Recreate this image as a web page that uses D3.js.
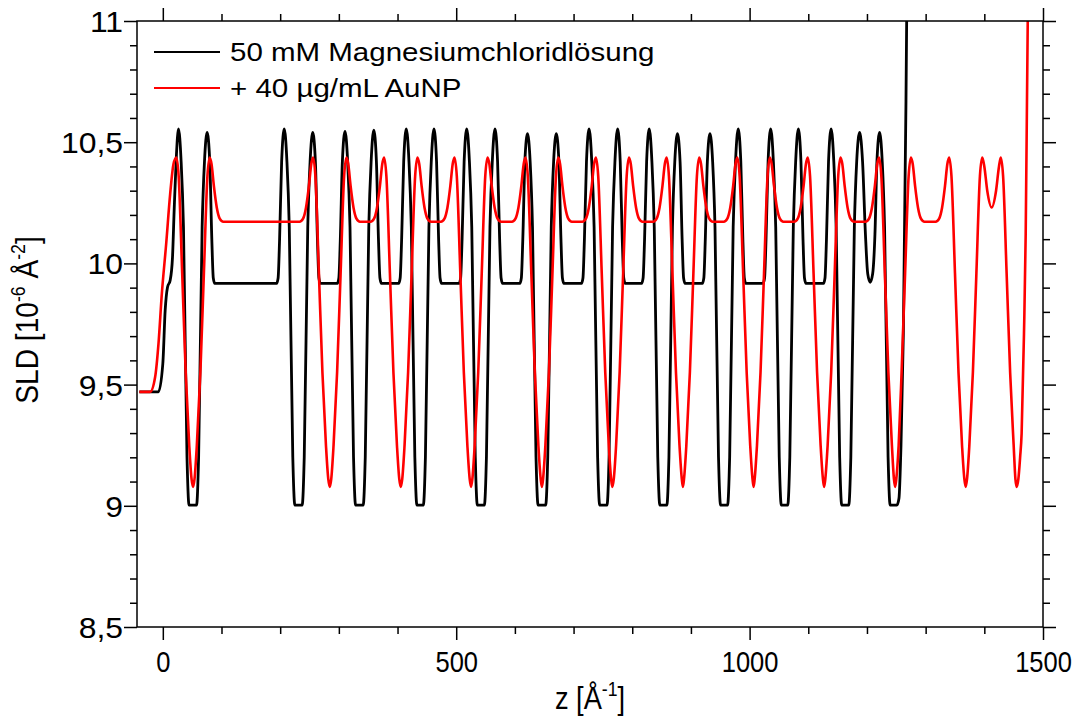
<!DOCTYPE html>
<html><head><meta charset="utf-8">
<script src="https://cdn.jsdelivr.net/npm/d3@7"></script>
<style>
body{margin:0;background:#fff}
svg{display:block}
text{font-family:"Liberation Sans",Arial,sans-serif;fill:#000}
</style>
</head><body>
<svg id="chart" width="1076" height="718"></svg>
<script>
// ---------- data ----------
const xDomain = [-44, 1500];
const yDomain = [8.5, 11];
const xTicksMajor = [0, 500, 1000, 1500];
const xTickLabels = ["0", "500", "1000", "1500"];
const xTicksMinor = [100, 200, 300, 400, 600, 700, 800, 900, 1100, 1200, 1300, 1400];
const yTicksMajor = [8.5, 9, 9.5, 10, 10.5, 11];
const yTickLabels = ["8,5", "9", "9,5", "10", "10,5", "11"];
const yTicksMinor = [8.6, 8.7, 8.8, 8.9, 9.1, 9.2, 9.3, 9.4, 9.6, 9.7, 9.8, 9.9, 10.1, 10.2, 10.3, 10.4, 10.6, 10.7, 10.8, 10.9];
const seriesNames = ["50 mM Magnesiumchloridlösung", "+ 40 µg/mL AuNP"];
const seriesColors = ["#000000", "#ff0000"];

// z [Å], SLD [1e-6 Å^-2]  — 50 mM MgCl2
const sldMgCl2 = [
[-40,9.47],[-7.5,9.47],[0,9.586],[4,9.806],[8,9.902],[12.5,9.93],[16.5,10.025],[19.3,10.217],[22.7,10.423],[26.7,10.555],
[31.2,10.42],[35.2,10.15],[41.2,9.2],[44.7,9.003],[57.5,9.003],[61,9.2],[67,10.15],[71,10.42],[75.5,10.54],[80,10.42],[83.5,10.1],[86,9.94],[88.5,9.918],
[194,9.918],[196.5,9.94],[199,10.1],[202.5,10.42],[207,10.555],[211.5,10.42],[215.5,10.15],[221.5,9.2],[225,9.003],[237.5,9.003],[241,9.2],[247,10.15],[251,10.42],[255.5,10.54],[260,10.42],[263.5,10.1],[266,9.94],[268.5,9.918],
[297.5,9.918],[300,9.94],[302.5,10.1],[306,10.42],[310.5,10.545],[315,10.42],[319,10.15],[325,9.2],[328.5,9.003],[341.5,9.003],[345,9.2],[351,10.15],[355,10.42],[359.5,10.55],[364,10.42],[367.5,10.1],[370,9.94],[372.5,9.918],
[402,9.918],[404.5,9.94],[407,10.1],[410.5,10.42],[415,10.555],[419.5,10.42],[423.5,10.15],[429.5,9.2],[433,9.003],[444,9.003],[447.5,9.2],[453.5,10.15],[457.5,10.42],[462,10.555],[466.5,10.42],[470,10.1],[472.5,9.94],[475,9.918],
[505,9.918],[507.5,9.94],[510,10.1],[513.5,10.42],[518,10.555],[522.5,10.42],[526.5,10.15],[532.5,9.2],[536,9.003],[548,9.003],[551.5,9.2],[557.5,10.15],[561.5,10.42],[566,10.555],[570.5,10.42],[574,10.1],[576.5,9.94],[579,9.918],
[608.5,9.918],[611,9.94],[613.5,10.1],[617,10.42],[621.5,10.535],[626,10.42],[630,10.15],[636,9.2],[639.5,9.003],[652.5,9.003],[656,9.2],[662,10.15],[666,10.42],[670.5,10.535],[675,10.42],[678.5,10.1],[681,9.94],[683.5,9.918],
[713.5,9.918],[716,9.94],[718.5,10.1],[722,10.42],[726.5,10.555],[731,10.42],[735,10.15],[741,9.2],[744.5,9.003],[757,9.003],[760.5,9.2],[766.5,10.15],[770.5,10.42],[775,10.555],[779.5,10.42],[783,10.1],[785.5,9.94],[788,9.918],
[816,9.918],[818.5,9.94],[821,10.1],[824.5,10.42],[829,10.555],[833.5,10.42],[837.5,10.15],[843.5,9.2],[847,9.003],[859,9.003],[862.5,9.2],[868.5,10.15],[872.5,10.42],[877,10.535],[881.5,10.42],[885,10.1],[887.5,9.94],[890,9.918],
[919.5,9.918],[922,9.94],[924.5,10.1],[928,10.42],[932.5,10.535],[937,10.42],[941,10.15],[947,9.2],[950.5,9.003],[962.5,9.003],[966,9.2],[972,10.15],[976,10.42],[980.5,10.555],[985,10.42],[988.5,10.1],[991,9.94],[993.5,9.918],
[1023,9.918],[1025.5,9.94],[1028,10.1],[1031.5,10.42],[1036,10.555],[1040.5,10.42],[1044.5,10.15],[1050.5,9.2],[1054,9.003],[1065,9.003],[1068.5,9.2],[1074.5,10.15],[1078.5,10.42],[1083,10.555],[1087.5,10.42],[1091,10.1],[1093.5,9.94],[1096,9.918],
[1126,9.918],[1128.5,9.94],[1131,10.1],[1134.5,10.42],[1139,10.555],[1143.5,10.42],[1147.5,10.15],[1153.5,9.2],[1157,9.003],[1169,9.003],[1172.5,9.2],[1178.5,10.15],[1182.5,10.42],[1187.5,10.54],
[1192.5,10.42],[1197.4,10.12],[1201.3,9.957],[1205.5,9.922],[1209.7,9.957],[1213.6,10.12],[1217,10.42],[1221.5,10.54],
[1226,10.42],[1230,10.15],[1236,9.2],[1239.5,9.003],[1251,9.003],[1254.5,9.03],[1258,9.25],[1262,9.71],[1266.5,10.67],[1268,11.1],[1270,11.8]
];

// z [Å], SLD [1e-6 Å^-2]  — + 40 µg/mL AuNP
const sldAuNP = [
[-40,9.47],[-21.6,9.47],[-13.1,9.531],[-7.4,9.668],[-1.7,9.874],[5.7,10.08],[12.5,10.286],[18.2,10.41],[23,10.437],
[27,10.36],[33,9.96],[39,9.55],[45,9.25],[49,9.11],[51.6,9.078],[54,9.11],[58,9.25],[64,9.55],[70,9.96],[76,10.36],[80,10.437],[83,10.41],[87,10.32],[92,10.23],[97,10.185],[103,10.172],
[233,10.172],[239,10.185],[244,10.23],[249,10.32],[253,10.41],[256,10.437],[260,10.36],[266,9.96],[272,9.55],[278,9.25],[282,9.11],[284.6,9.078],[287,9.11],[291,9.25],[297,9.55],[303,9.96],[309,10.36],[313,10.437],[316,10.41],[320,10.32],[325,10.23],[330,10.185],[336,10.172],
[354,10.172],[360,10.185],[365,10.23],[370,10.32],[374,10.41],[377,10.437],[381,10.36],[387,9.96],[393,9.55],[399,9.25],[403,9.11],[405.5,9.078],[408,9.11],[412,9.25],[418,9.55],[424,9.96],[430,10.36],[434,10.437],[437,10.41],[441,10.32],[446,10.23],[451,10.185],[457,10.172],
[474,10.172],[480,10.185],[485,10.23],[490,10.32],[494,10.41],[497,10.437],[501,10.36],[507,9.96],[513,9.55],[519,9.25],[523,9.11],[525.3,9.078],[527.5,9.11],[531.5,9.25],[537.5,9.55],[543.5,9.96],[549.5,10.36],[553.5,10.437],[556.5,10.41],[560.5,10.32],[565.5,10.23],[570.5,10.185],[576.5,10.172],
[595,10.172],[601,10.185],[606,10.23],[611,10.32],[615,10.41],[618,10.437],[622,10.36],[628,9.96],[634,9.55],[640,9.25],[644,9.11],[646,9.078],[648,9.11],[652,9.25],[658,9.55],[664,9.96],[670,10.36],[674,10.437],[677,10.41],[681,10.32],[686,10.23],[691,10.185],[697,10.172],
[715,10.172],[721,10.185],[726,10.23],[731,10.32],[735,10.41],[738,10.437],[742,10.36],[748,9.96],[754,9.55],[760,9.25],[764,9.11],[766,9.078],[768.5,9.11],[772.5,9.25],[778.5,9.55],[784.5,9.96],[790.5,10.36],[794.5,10.437],[797.5,10.41],[801.5,10.32],[806.5,10.23],[811.5,10.185],[817.5,10.172],
[835.5,10.172],[841.5,10.185],[846.5,10.23],[851.5,10.32],[855.5,10.41],[858.5,10.437],[862.5,10.36],[868.5,9.96],[874.5,9.55],[880.5,9.25],[884.5,9.11],[886.3,9.078],[888.2,9.11],[892.2,9.25],[898.2,9.55],[904.2,9.96],[910.2,10.36],[914.2,10.437],[917.2,10.41],[921.2,10.32],[926.2,10.23],[931.2,10.185],[937.2,10.172],
[956,10.172],[962,10.185],[967,10.23],[972,10.32],[976,10.41],[979,10.437],[983,10.36],[989,9.96],[995,9.55],[1001,9.25],[1005,9.11],[1006.8,9.078],[1008.6,9.11],[1012.6,9.25],[1018.6,9.55],[1024.6,9.96],[1030.6,10.36],[1034.6,10.437],[1037.6,10.41],[1041.6,10.32],[1046.6,10.23],[1051.6,10.185],[1057.6,10.172],
[1076,10.172],[1082,10.185],[1087,10.23],[1092,10.32],[1096,10.41],[1099,10.437],[1103,10.36],[1109,9.96],[1115,9.55],[1121,9.25],[1125,9.11],[1127,9.078],[1129,9.11],[1133,9.25],[1139,9.55],[1145,9.96],[1151,10.36],[1155,10.437],[1158,10.41],[1162,10.32],[1167,10.23],[1172,10.185],[1178,10.172],
[1197.5,10.172],[1203.5,10.185],[1208.5,10.23],[1213.5,10.32],[1217.5,10.41],[1220.5,10.437],[1224.5,10.36],[1230.5,9.96],[1236.5,9.55],[1242.5,9.25],[1246,9.11],[1248,9.078],[1250,9.11],[1254,9.25],[1259,9.55],[1265,9.96],[1271,10.36],[1275,10.437],[1278,10.41],[1282,10.32],[1287,10.23],[1292,10.185],[1298,10.172],
[1317,10.172],[1323,10.185],[1328,10.23],[1333,10.32],[1337,10.41],[1340,10.437],[1344,10.36],[1350,9.96],[1356,9.55],[1362,9.25],[1366,9.11],[1368.3,9.078],[1370.5,9.11],[1374.5,9.25],[1380.5,9.55],[1386.5,9.96],[1392.5,10.36],[1396.5,10.437],
[1400,10.4],[1405,10.3],[1412.5,10.231],[1420,10.3],[1425,10.4],[1428,10.437],
[1432,10.36],[1438,9.96],[1444,9.55],[1450,9.25],[1453,9.11],[1455.2,9.078],[1458,9.11],[1461,9.2],[1463.6,9.3],[1467.6,9.71],[1470.5,10.12],[1472.7,10.67],[1474,11.0],[1476,11.6]
];

// ---------- layout ----------
const L = 137, R = 1043, T = 21, B = 627;
const svg = d3.select("#chart");
const x = d3.scaleLinear().domain(xDomain).range([L, R]);
const y = d3.scaleLinear().domain(yDomain).range([B, T]);

svg.append("defs").append("clipPath").attr("id", "plotclip")
  .append("rect").attr("x", L).attr("y", T).attr("width", R - L).attr("height", B - T);

const line = d3.line().x(d => x(d[0])).y(d => y(d[1])).curve(d3.curveMonotoneX);
const plot = svg.append("g").attr("clip-path", "url(#plotclip)");
const strokeW = [2.8, 2.6];
[sldMgCl2, sldAuNP].forEach((s, i) => {
  plot.append("path").datum(s).attr("d", line)
    .attr("fill", "none").attr("stroke", seriesColors[i])
    .attr("stroke-width", strokeW[i]).attr("stroke-linejoin", "round");
});

// ---------- axes ----------
function styleAxis(g) {
  g.selectAll("path,line").attr("stroke", "#000").attr("stroke-width", 1.5);
  g.select(".domain").remove();
}
const MAJ = 13, MIN = 7;
// bottom
svg.append("g").attr("transform", `translate(0,${B})`)
  .call(d3.axisBottom(x).tickValues(xTicksMinor).tickSize(MIN).tickFormat("")).call(styleAxis);
const xb = svg.append("g").attr("transform", `translate(0,${B})`)
  .call(d3.axisBottom(x).tickValues(xTicksMajor).tickSize(MAJ).tickPadding(0).tickFormat((d, i) => xTickLabels[i]))
  .call(styleAxis);
xb.selectAll("text").attr("font-size", 29).attr("y", 0).attr("dy", 0)
  .attr("transform", "translate(0,45) scale(0.88,1)")
  .attr("font-family", "Liberation Sans, Arial, sans-serif");
// top
svg.append("g").attr("transform", `translate(0,${T})`)
  .call(d3.axisTop(x).tickValues(xTicksMinor).tickSize(MIN).tickFormat("")).call(styleAxis);
svg.append("g").attr("transform", `translate(0,${T})`)
  .call(d3.axisTop(x).tickValues(xTicksMajor).tickSize(MAJ).tickFormat("")).call(styleAxis);
// left
svg.append("g").attr("transform", `translate(${L},0)`)
  .call(d3.axisLeft(y).tickValues(yTicksMinor).tickSize(MIN).tickFormat("")).call(styleAxis);
const yl = svg.append("g").attr("transform", `translate(${L},0)`)
  .call(d3.axisLeft(y).tickValues(yTicksMajor).tickSize(MAJ).tickPadding(0).tickFormat((d, i) => yTickLabels[i]))
  .call(styleAxis);
yl.selectAll("text").attr("font-size", 29).attr("x", 0).attr("dy", "0.36em")
  .attr("transform", "translate(-14,0) scale(1.1,1)")
  .attr("font-family", "Liberation Sans, Arial, sans-serif");
// right
svg.append("g").attr("transform", `translate(${R},0)`)
  .call(d3.axisRight(y).tickValues(yTicksMinor).tickSize(MIN).tickFormat("")).call(styleAxis);
svg.append("g").attr("transform", `translate(${R},0)`)
  .call(d3.axisRight(y).tickValues(yTicksMajor).tickSize(MAJ).tickFormat("")).call(styleAxis);

// frame
svg.append("rect").attr("x", L).attr("y", T).attr("width", R - L).attr("height", B - T)
  .attr("fill", "none").attr("stroke", "#000").attr("stroke-width", 1.5);

// axis titles
const xt = svg.append("text").attr("transform", `translate(${(L + R) / 2},709) scale(0.88,1)`)
  .attr("text-anchor", "middle").attr("font-size", 31);
xt.append("tspan").text("z [Å");
xt.append("tspan").attr("font-size", 20).attr("dy", -13).text("-1");
xt.append("tspan").attr("dy", 13).text("]");

const yt = svg.append("text").attr("transform", `translate(38,${(T + B) / 2 - 4}) rotate(-90) scale(0.88,1)`)
  .attr("text-anchor", "middle").attr("font-size", 32);
yt.append("tspan").text("SLD [10");
yt.append("tspan").attr("font-size", 20).attr("dy", -13).text("-6");
yt.append("tspan").attr("dy", 13).text(" Å");
yt.append("tspan").attr("font-size", 20).attr("dy", -13).text("-2");
yt.append("tspan").attr("dy", 13).text("]");

// legend
const legY = [52, 88];
seriesNames.forEach((name, i) => {
  svg.append("line").attr("x1", 154).attr("x2", 220).attr("y1", legY[i]).attr("y2", legY[i])
    .attr("stroke", seriesColors[i]).attr("stroke-width", 2.2);
  svg.append("text").attr("transform", `translate(230,${legY[i]}) scale(1.18,1)`)
    .attr("dy", "0.36em").attr("font-size", 25).text(name);
});
</script>
</body></html>
